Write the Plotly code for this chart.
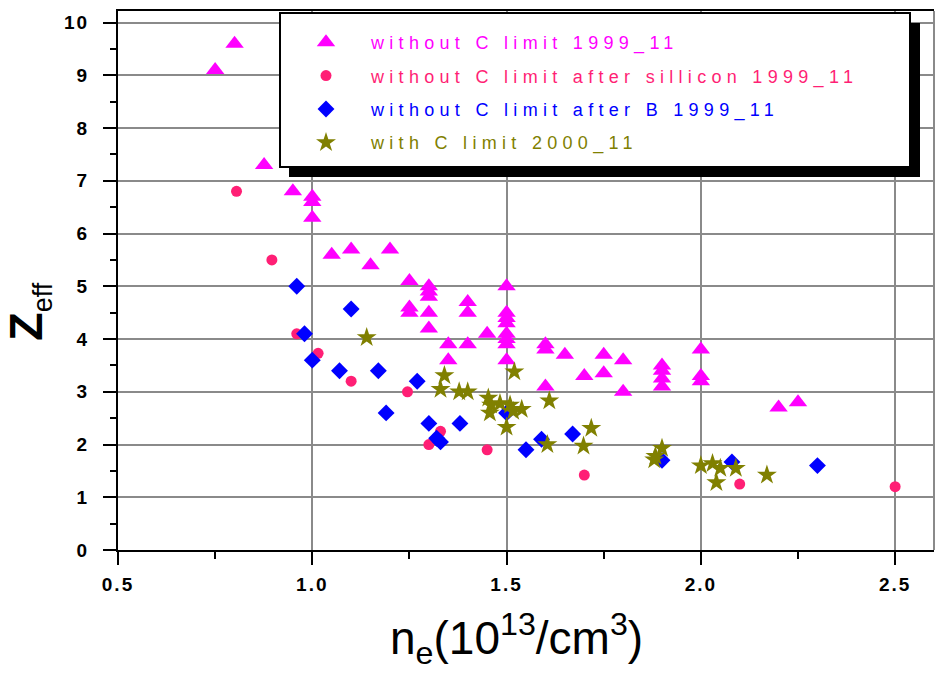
import plotly.graph_objects as go

# ---- data ----
tri_x = [0.75, 0.80, 0.876, 0.95, 1.0, 1.0, 1.0, 1.05, 1.10, 1.15, 1.20, 1.25, 1.25, 1.25,
         1.30, 1.30, 1.30, 1.30, 1.30, 1.35, 1.35, 1.40, 1.40, 1.40, 1.45,
         1.50, 1.50, 1.50, 1.50, 1.50, 1.50, 1.50, 1.50, 1.60, 1.60, 1.60, 1.65, 1.70,
         1.75, 1.75, 1.80, 1.80, 1.90, 1.90, 1.90, 1.90, 2.0, 2.0, 2.0, 2.20, 2.25]
tri_y = [9.1, 9.6, 7.3, 6.8, 6.7, 6.6, 6.3, 5.6, 5.7, 5.4, 5.7, 5.1, 4.6, 4.5,
         5.0, 4.9, 4.8, 4.5, 4.2, 3.9, 3.6, 4.7, 4.5, 3.9, 4.1,
         5.0, 4.5, 4.4, 4.3, 4.1, 4.0, 3.9, 3.6, 3.9, 3.8, 3.1, 3.7, 3.3,
         3.7, 3.35, 3.6, 3.0, 3.5, 3.4, 3.25, 3.1, 3.8, 3.3, 3.2, 2.7, 2.8]

si_x = [0.805, 0.896, 0.96, 1.015, 1.10, 1.245, 1.33, 1.30, 1.45, 1.70, 2.10, 2.50]
si_y = [6.8, 5.5, 4.1, 3.73, 3.2, 3.0, 2.25, 2.0, 1.9, 1.42, 1.25, 1.2]

b_x = [0.96, 0.98, 1.0, 1.10, 1.07, 1.17, 1.27, 1.19, 1.30, 1.38, 1.32, 1.33,
       1.50, 1.55, 1.59, 1.67, 1.90, 2.08, 2.30]
b_y = [5.0, 4.1, 3.6, 4.57, 3.4, 3.4, 3.2, 2.6, 2.4, 2.4, 2.12, 2.05,
       2.6, 1.9, 2.1, 2.2, 1.7, 1.67, 1.6]

c_x = [1.14, 1.34, 1.33, 1.378, 1.40, 1.453, 1.46, 1.457, 1.483, 1.509, 1.517, 1.539,
       1.50, 1.52, 1.61, 1.605, 1.718, 1.698, 1.90, 1.883, 1.88, 2.0, 2.03, 2.05,
       2.04, 2.09, 2.17]
c_y = [4.03, 3.31, 3.05, 3.0, 3.0, 2.88, 2.75, 2.6, 2.78, 2.75, 2.63, 2.67,
       2.33, 3.38, 2.83, 2.0, 2.31, 1.97, 1.93, 1.78, 1.71, 1.6, 1.64, 1.55,
       1.28, 1.55, 1.42]

x_tickvals = [0.5, 1.0, 1.5, 2.0, 2.5]
x_ticklabels = ["0.5", "1.0", "1.5", "2.0", "2.5"]
y_tickvals = [0, 1, 2, 3, 4, 5, 6, 7, 8, 9, 10]
y_ticklabels = ["0", "1", "2", "3", "4", "5", "6", "7", "8", "9", "10"]

names = ["without C limit 1999_11",
         "without C limit after sillicon 1999_11",
         "without C limit after B 1999_11",
         "with C limit 2000_11"]
colors = ["#FF00FF", "#FF1F75", "#0000FF", "#808000"]
symbols = ["triangle-up", "circle", "diamond", "star"]
sizes = [16, 11, 13, 15]
xs = [tri_x, si_x, b_x, c_x]
ys = [tri_y, si_y, b_y, c_y]

fig = go.Figure()
for i in range(4):
    fig.add_trace(go.Scatter(
        x=xs[i], y=ys[i], mode="markers",
        name=f"<span style='color:{colors[i]};letter-spacing:5.3px'>{names[i]}</span>",
        legendgroup=f"g{i}",
        marker=dict(symbol=symbols[i], size=sizes[i], color=colors[i], line=dict(width=0)),
    ))

L, R, T, B = 118, 934, 11, 550
W, H = 935, 674
pw, ph = R - L, B - T

def px(xp):
    return (xp - L) / pw

def py(yp):
    return (B - yp) / ph

# legend box with drop shadow
fig.add_shape(type="rect", xref="paper", yref="paper",
              x0=px(289), x1=px(920), y0=py(177), y1=py(23),
              fillcolor="black", line=dict(width=0), layer="above")
fig.add_shape(type="rect", xref="paper", yref="paper",
              x0=px(280), x1=px(910), y0=py(167), y1=py(13),
              fillcolor="white", line=dict(color="black", width=2), layer="above")
# right border
fig.add_shape(type="line", xref="paper", yref="paper", x0=1, x1=1, y0=0, y1=1,
              line=dict(color="#8a8a8a", width=2), layer="below")

# y-axis title (Z_eff)
fig.add_annotation(xref="paper", yref="paper", x=px(28), y=py(312),
                   xanchor="center", yanchor="middle", textangle=-90, showarrow=False,
                   text="<b>Z</b><sub><span style='font-size:27px'>eff</span></sub>",
                   font=dict(family="Liberation Sans, Arial", size=47, color="black"))
# x-axis title
fig.add_annotation(xref="paper", yref="paper", x=px(516), y=py(639),
                   xanchor="center", yanchor="middle", showarrow=False,
                   text="n<sub>e</sub>(10<sup>13</sup>/cm<sup>3</sup>)",
                   font=dict(family="Liberation Sans Narrow, Liberation Sans, Arial",
                             size=46, color="black"))

tickfont = dict(family="Liberation Sans", size=19, color="black", weight="bold")
sp = "<span style='letter-spacing:2px'>{}</span>"

fig.update_layout(
    width=W, height=H,
    margin=dict(l=L, r=W - R, t=T, b=H - B),
    paper_bgcolor="white", plot_bgcolor="white",
    showlegend=True,
    legend=dict(x=px(281), y=py(24), xanchor="left", yanchor="top",
                bgcolor="rgba(0,0,0,0)", borderwidth=0,
                font=dict(family="Liberation Sans, Arial", size=18),
                traceorder="grouped", tracegroupgap=7, itemwidth=80),
    xaxis=dict(range=[0.5, 2.6], tickmode="array", tickvals=x_tickvals,
               ticktext=[sp.format(t) for t in x_ticklabels],
               showgrid=True, gridcolor="#8a8a8a", gridwidth=2,
               zeroline=False, showline=True, linecolor="black", linewidth=2,
               mirror=True, ticks="outside", ticklen=13, tickwidth=2, tickcolor="black",
               minor=dict(dtick=0.25, tick0=0.5, ticks="outside", ticklen=7, tickwidth=2,
                          tickcolor="black", showgrid=False),
               tickfont=tickfont, ticklabelstandoff=3),
    yaxis=dict(range=[0, 10.22], tickmode="array", tickvals=y_tickvals,
               ticktext=[sp.format(t) for t in y_ticklabels],
               showgrid=True, gridcolor="#8a8a8a", gridwidth=2,
               zeroline=False, showline=True, linecolor="black", linewidth=2,
               mirror=False, ticks="outside", ticklen=13, tickwidth=2, tickcolor="black",
               minor=dict(dtick=0.5, tick0=0, ticks="outside", ticklen=6, tickwidth=2,
                          tickcolor="black", showgrid=False),
               tickfont=tickfont, ticklabelstandoff=10),
)

fig.write_html("out.html")
